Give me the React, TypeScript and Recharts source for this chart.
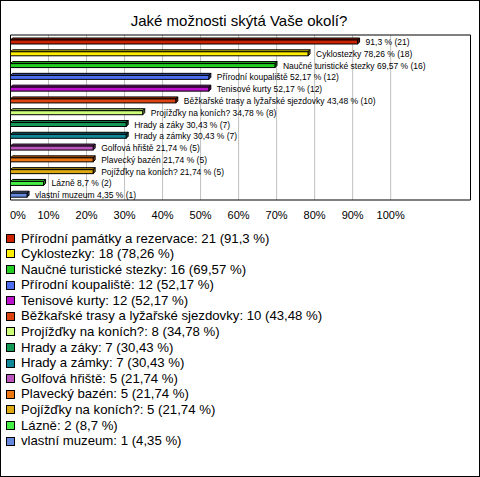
import React from "react";
import { BarChart, Bar, XAxis, YAxis, CartesianGrid, Cell, LabelList, ReferenceArea } from "recharts";

const FONT = "'Liberation Sans', Arial, Helvetica, sans-serif";

const title = "Jaké možnosti skýtá Vaše okolí?";

const categories = [
  "Přírodní památky a rezervace",
  "Cyklostezky",
  "Naučné turistické stezky",
  "Přírodní koupaliště",
  "Tenisové kurty",
  "Běžkařské trasy a lyžařské sjezdovky",
  "Projížďky na koních?",
  "Hrady a záky",
  "Hrady a zámky",
  "Golfová hřiště",
  "Plavecký bazén",
  "Pojížďky na koních?",
  "Lázně",
  "vlastní muzeum",
];

const counts = [21, 18, 16, 12, 12, 10, 8, 7, 7, 5, 5, 5, 2, 1];

const percents = [91.3, 78.26, 69.57, 52.17, 52.17, 43.48, 34.78, 30.43, 30.43, 21.74, 21.74, 21.74, 8.7, 4.35];

// names printed beside the bars (first bar shows only the value)
const barLabelNames = [
  "",
  "Cyklostezky",
  "Naučné turistické stezky",
  "Přírodní koupaliště",
  "Tenisové kurty",
  "Běžkařské trasy a lyžařské sjezdovky",
  "Projížďky na koních?",
  "Hrady a záky",
  "Hrady a zámky",
  "Golfová hřiště",
  "Plavecký bazén",
  "Pojížďky na koních?",
  "Lázně",
  "vlastní muzeum",
];

const colors = [
  "#cc2200",
  "#ffee00",
  "#22cc22",
  "#4d6ef0",
  "#bb11cc",
  "#dd4411",
  "#ccff77",
  "#119955",
  "#118899",
  "#bb55bb",
  "#ee7711",
  "#ddaa11",
  "#44ee44",
  "#6688dd",
];

const xTicks = [0, 10, 20, 30, 40, 50, 60, 70, 80, 90, 100];

const fmt = (v: number) => String(v).replace(".", ",");

const data = categories.map((name, i) => ({
  name,
  pct: percents[i],
  count: counts[i],
  label: (barLabelNames[i] ? barLabelNames[i] + " " : "") + fmt(percents[i]) + " % (" + counts[i] + ")",
  legend: name + ": " + counts[i] + " (" + fmt(percents[i]) + " %)",
}));

function shade(hex: string, f: number) {
  const h = hex.replace("#", "");
  const r = Math.round(parseInt(h.slice(0, 2), 16) * f);
  const g = Math.round(parseInt(h.slice(2, 4), 16) * f);
  const b = Math.round(parseInt(h.slice(4, 6), 16) * f);
  return `rgb(${r},${g},${b})`;
}

const Bar3D = (props: any) => {
  const { x, width, height, fill } = props;
  const y = props.y + 1;
  const d = 2;
  const top = `${x},${y} ${x + d},${y - d} ${x + width + d},${y - d} ${x + width},${y}`;
  const side = `${x + width},${y} ${x + width + d},${y - d} ${x + width + d},${y + height - d} ${x + width},${y + height}`;
  return (
    <g>
      <polygon points={top} fill={shade(fill, 0.8)} stroke="#000" strokeWidth={1} />
      <polygon points={side} fill={shade(fill, 0.6)} stroke="#000" strokeWidth={1} />
      <rect x={x} y={y} width={width} height={height} fill={fill} stroke="#000" strokeWidth={1} />
    </g>
  );
};

const BarLabel = (props: any) => {
  const { x, y, width, height, value } = props;
  return (
    <text
      x={x + width + 8}
      y={y + height / 2 + 4}
      fontSize={8.5}
      fontFamily={FONT}
      fill="#000"
    >
      {value}
    </text>
  );
};

const XTick = (props: any) => {
  const { x, y, payload } = props;
  const first = payload.value === 0;
  return (
    <text
      x={first ? x - 0.5 : x}
      y={y + 19}
      textAnchor={first ? "start" : "middle"}
      fontSize={11}
      fontFamily={FONT}
      fill="#000"
    >
      {payload.value + "%"}
    </text>
  );
};

export default function App() {
  return (
    <div
      style={{
        position: "absolute",
        left: 0,
        top: 0,
        width: 480,
        height: 477,
        border: "1px solid #000",
        boxSizing: "border-box",
        background: "#fff",
        fontFamily: FONT,
        overflow: "hidden",
      }}
    >
      <div
        style={{
          position: "absolute",
          left: 0,
          top: 10,
          width: 476,
          textAlign: "center",
          fontSize: 15,
          lineHeight: "20px",
          color: "#000",
        }}
      >
        {title}
      </div>
      <div style={{ position: "absolute", left: -1, top: -1 }}>
        <BarChart
          width={480}
          height={230}
          data={data}
          layout="vertical"
          margin={{ top: 35, right: 9.5, bottom: 0, left: 10.5 }}
          barCategoryGap={0}
        >
          <CartesianGrid horizontal={false} stroke="#c0c0c0" strokeWidth={1} />
          <XAxis
            type="number"
            dataKey="pct"
            domain={[0, 121]}
            ticks={xTicks}
            allowDataOverflow
            axisLine={false}
            tickLine={false}
            tickSize={0}
            tickMargin={0}
            height={30}
            tick={<XTick />}
            interval={0}
          />
          <YAxis type="category" dataKey="name" hide width={0} />
          <ReferenceArea x1={0} x2={121} stroke="#000" strokeWidth={1} fill="none" fillOpacity={0} ifOverflow="visible" />
          <Bar dataKey="pct" barSize={4} isAnimationActive={false} shape={<Bar3D />}>
            {data.map((d, i) => (
              <Cell key={i} fill={colors[i]} />
            ))}
            <LabelList dataKey="label" content={<BarLabel />} />
          </Bar>
        </BarChart>
      </div>
      <div style={{ position: "absolute", left: -1, top: 229.5 }}>
        {data.map((d, i) => (
          <div
            key={i}
            style={{ display: "flex", alignItems: "center", height: 15.6, fontSize: 13.2, lineHeight: "15.6px", color: "#000", whiteSpace: "nowrap" }}
          >
            <span
              style={{
                display: "inline-block",
                marginLeft: 6,
                width: 9,
                height: 9,
                boxSizing: "border-box",
                border: "1px solid #000",
                background: colors[i],
              }}
            />
            <span style={{ marginLeft: 6 }}>{d.legend}</span>
          </div>
        ))}
      </div>
    </div>
  );
}
